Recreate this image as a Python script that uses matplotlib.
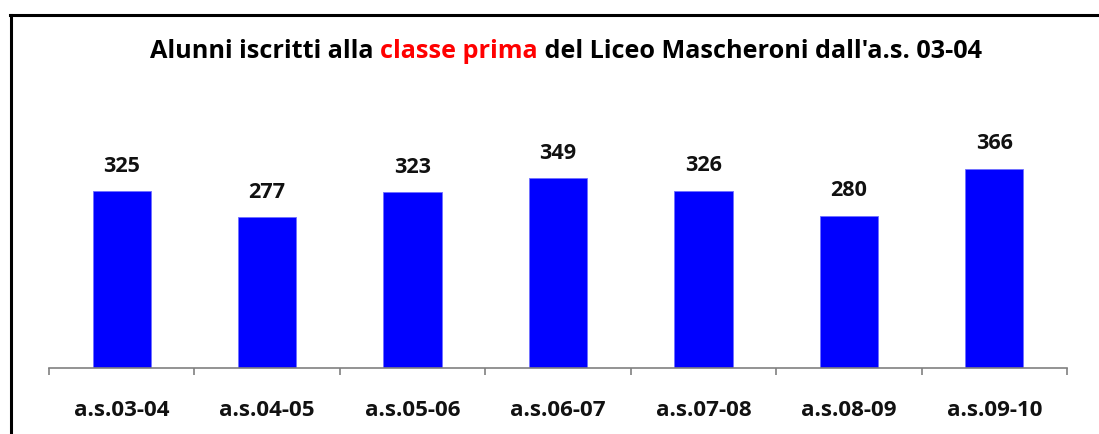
import matplotlib
matplotlib.use("Agg")
import matplotlib.pyplot as plt
from matplotlib.lines import Line2D

categories = ["a.s.03-04", "a.s.04-05", "a.s.05-06", "a.s.06-07", "a.s.07-08", "a.s.08-09", "a.s.09-10"]
values = [325, 277, 323, 349, 326, 280, 366]
title_parts = [("Alunni iscritti alla ", "black"), ("classe prima", "#FF0000"),
               (" del Liceo Mascheroni dall'a.s. 03-04", "black")]

W, H = 1099, 434
plt.rcParams['font.family'] = ['Open Sans', 'DejaVu Sans']
fig = plt.figure(figsize=(W / 100, H / 100), dpi=100)

ax = fig.add_axes([49 / W, 1 - 368 / H, (1067 - 49) / W, (368 - 150.5) / H])
x = list(range(len(categories)))
ax.bar(x, values, width=0.4, color="#0000FF", edgecolor="#7070ff", linewidth=0.6)
ax.set_xlim(-0.5, len(categories) - 0.5)
ax.set_ylim(0, 400)
labels = []
for xi, v in zip(x, values):
    a = ax.annotate(str(v), (xi, v), xytext=(0, 18), textcoords="offset points",
                    ha="center", va="center", fontsize=13, fontweight="bold", color="#111111",
                    annotation_clip=False)
    labels.append(a)

for s in ["top", "right", "left"]:
    ax.spines[s].set_visible(False)
ax.spines["bottom"].set_color("#808080")
ax.spines["bottom"].set_linewidth(1.2)
ax.set_yticks([])
ax.set_xticks([i - 0.5 for i in range(len(categories) + 1)])
ax.set_xticklabels([])
ax.set_xticks(x, minor=True)
ax.set_xticklabels(categories, minor=True, fontsize=13, fontweight="bold", color="#111111")
ax.tick_params(axis="x", which="major", length=5, width=1.2, color="#808080", direction="out")
ax.tick_params(axis="x", which="minor", length=0, pad=23)

# frame lines
fig.add_artist(Line2D([10 / W, 1], [1 - 15 / H, 1 - 15 / H], color="black", linewidth=2.2,
                      transform=fig.transFigure))
fig.add_artist(Line2D([11 / W, 11 / W], [1 - 15 / H, 0], color="black", linewidth=2.2,
                      transform=fig.transFigure))

texts = []
for s, c in title_parts:
    t = fig.text(0, 1 - 52 / H, s, color=c, fontsize=14, fontweight="bold",
                 ha="left", va="center")
    texts.append(t)

# fit font sizes to the reference's text widths
fig.canvas.draw()
r = fig.canvas.get_renderer()
tw = sum(t.get_window_extent(r).width for t in texts)
for t in texts:
    t.set_fontsize(14 * 837 / tw)
lw = labels[0].get_window_extent(r).width
for a in labels:
    a.set_fontsize(13 * 37 / lw)
tl = ax.get_xticklabels(minor=True)
kw = tl[0].get_window_extent(r).width
for t in tl:
    t.set_fontsize(13 * 95 / kw)

fig.canvas.draw()
widths = [t.get_window_extent(r).width for t in texts]
start = 566 - sum(widths) / 2
for t, w in zip(texts, widths):
    t.set_x(start / W)
    start += w

fig.savefig("out.png", dpi=100, facecolor="white")
